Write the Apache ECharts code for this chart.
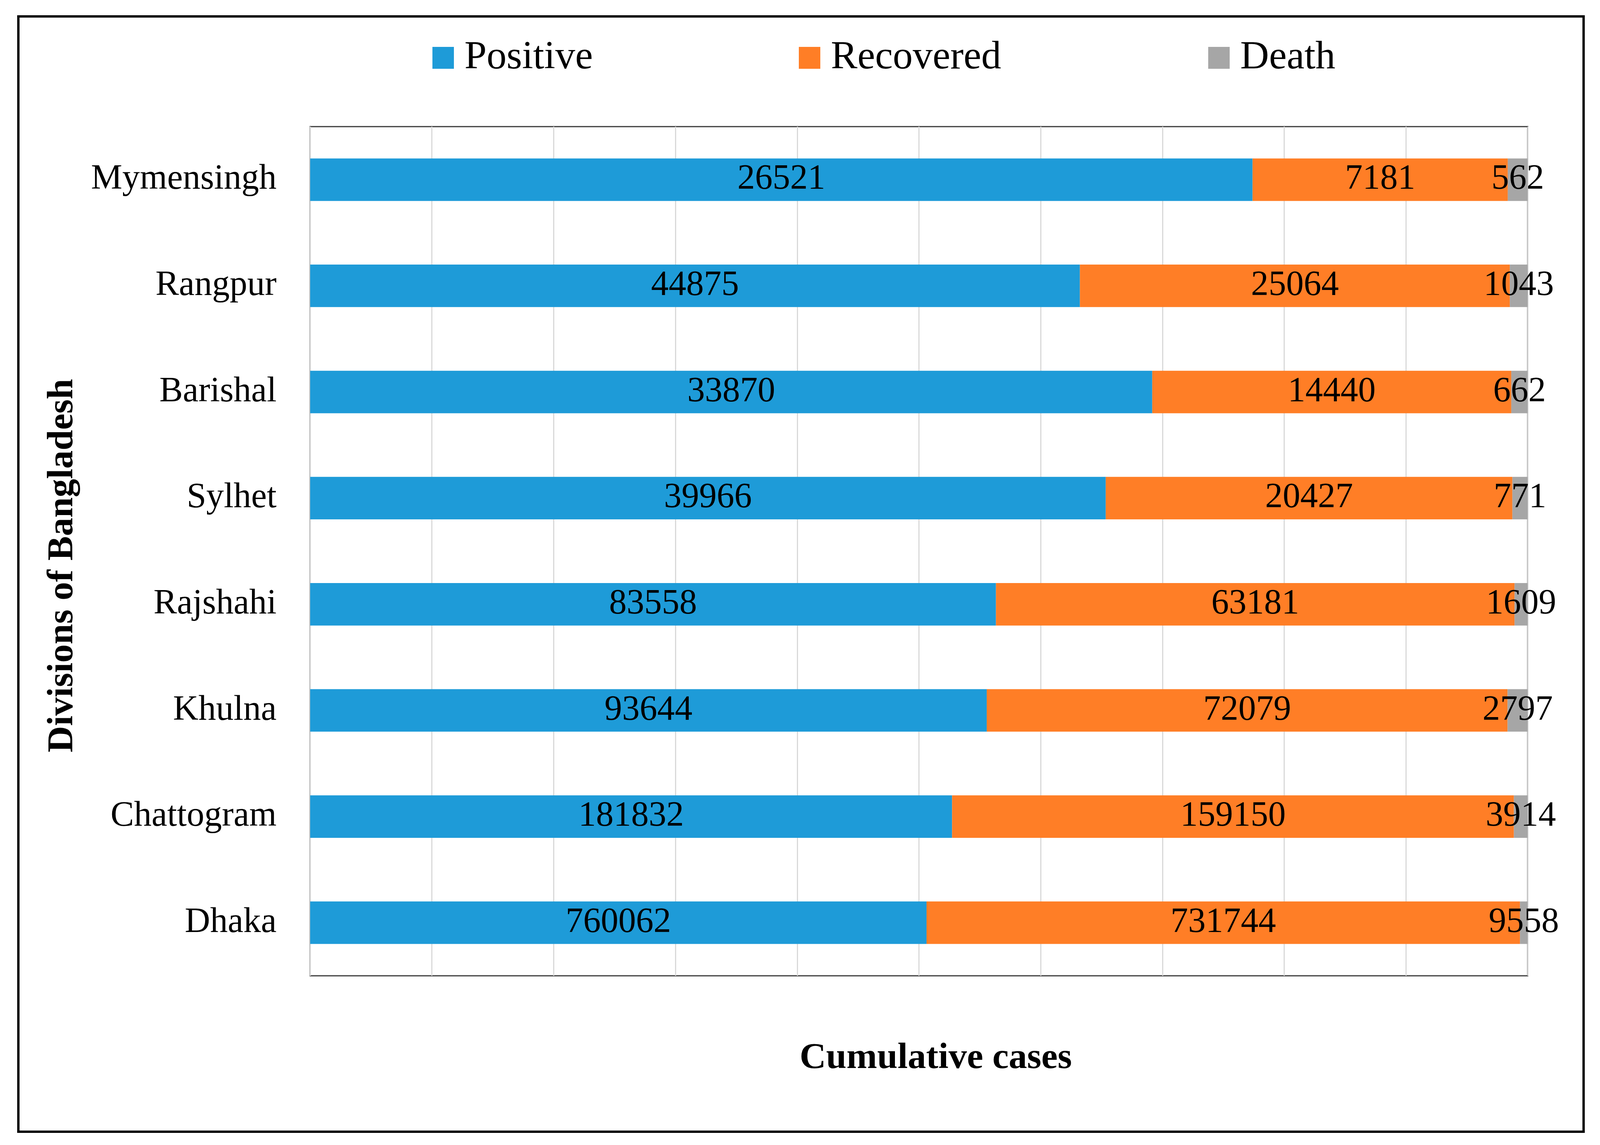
<!DOCTYPE html>
<html>
<head>
<meta charset="utf-8">
<style>
html,body{margin:0;padding:0;background:#fff;overflow:hidden;}
#chart{position:absolute;left:0;top:0;}
</style>
<script src="https://cdn.jsdelivr.net/npm/echarts@6/dist/echarts.min.js"></script>
</head>
<body>
<div id="chart"></div>
<script>
// Categories listed bottom-to-top (ECharts category y axis starts at the bottom)
const divisions = ['Dhaka', 'Chattogram', 'Khulna', 'Rajshahi', 'Sylhet', 'Barishal', 'Rangpur', 'Mymensingh'];
const positive  = [760062, 181832, 93644, 83558, 39966, 33870, 44875, 26521];
const recovered = [731744, 159150, 72079, 63181, 20427, 14440, 25064, 7181];
const death     = [9558, 3914, 2797, 1609, 771, 662, 1043, 562];
const seriesNames = ['Positive', 'Recovered', 'Death'];
const colors = ['#1E9BD8', '#FF7E26', '#A6A6A6'];

const totals = divisions.map((_, i) => positive[i] + recovered[i] + death[i]);
const raw = [positive, recovered, death];

// Fit the 4375x2930 design to the actual viewport
const W = window.innerWidth || 4375;
const H = window.innerHeight || 2930;
const sx = W / 4375, sy = H / 2930;
const X = v => Math.round(v * sx);
const Y = v => Math.round(v * sy);
const F = v => Math.round(v * sy);

const el = document.getElementById('chart');
el.style.width = W + 'px';
el.style.height = H + 'px';

const font = 'Liberation Serif';
const chart = echarts.init(el, null, {renderer: 'canvas', devicePixelRatio: 1});

const legendLefts = [1177, 2179, 3298];

const option = {
  backgroundColor: '#fff',
  animation: false,
  legend: seriesNames.map((n, k) => ({
    data: [n],
    left: X(legendLefts[k]),
    top: Y(92),
    itemWidth: X(59),
    itemHeight: Y(56),
    itemGap: 0,
    icon: 'rect',
    textStyle: {fontFamily: font, fontSize: F(102), color: '#000', padding: [0, 0, 0, X(24)]}
  })),
  grid: {left: X(848), right: X(198), top: Y(324), bottom: Y(433), show: true, borderColor: '#3A3A3A', borderWidth: 3, backgroundColor: 'transparent'},
  xAxis: {
    type: 'value', min: 0, max: 100, interval: 10,
    axisLabel: {show: false}, axisTick: {show: false}, axisLine: {show: false},
    splitLine: {show: true, lineStyle: {color: '#D9D9D9', width: 3}},
    name: 'Cumulative cases', nameLocation: 'middle', nameGap: Y(165),
    nameTextStyle: {fontFamily: font, fontSize: F(94), fontWeight: 'bold', color: '#000', padding: [0, 0, 0, X(92)]}
  },
  yAxis: {
    type: 'category', data: divisions,
    axisTick: {show: false}, axisLine: {show: false},
    axisLabel: {fontFamily: font, fontSize: F(90), color: '#000', margin: X(92)},
    name: 'Divisions of Bangladesh', nameLocation: 'middle', nameGap: X(626), nameRotate: 90,
    nameTextStyle: {fontFamily: font, fontSize: F(94), fontWeight: 'bold', color: '#000', padding: [0, Y(74), 0, 0]}
  },
  series: seriesNames.map((n, k) => ({
    name: n, type: 'bar', stack: 'total', barWidth: '40%',
    itemStyle: {color: colors[k]},
    label: {
      show: true, position: 'inside', color: '#000', fontFamily: font, fontSize: F(90),
      formatter: p => String(raw[k][p.dataIndex])
    },
    data: raw[k].map((v, i) => v / totals[i] * 100)
  })),
  graphic: [{
    type: 'rect', silent: true, z: 100,
    shape: {x: X(50), y: Y(42), width: X(4280), height: Y(2854)},
    style: {fill: 'none', stroke: '#000', lineWidth: 6}
  }]
};
chart.setOption(option);
</script>
</body>
</html>
